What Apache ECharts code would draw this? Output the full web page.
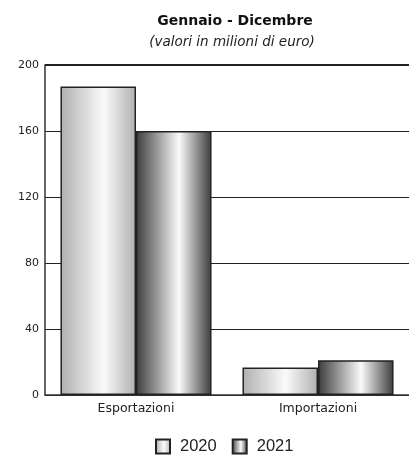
<!DOCTYPE html>
<html>
<head>
<meta charset="utf-8">
<script src="https://cdn.jsdelivr.net/npm/echarts@6/dist/echarts.min.js"></script>
<style>
  html, body { margin: 0; padding: 0; background: #fff; }
  #chart { width: 409px; height: 458px; }
</style>
</head>
<body>
<div id="chart"></div>
<script>
// Trade flows, January–December (millions of euro)
const categories = ['Esportazioni', 'Importazioni'];
const years = ['2020', '2021'];
const values2020 = [187, 16.6];
const values2021 = [160, 21];
const yTicks = [0, 40, 80, 120, 160, 200];

const font = 'DejaVu Sans, Verdana, sans-serif';

function cylinder(edge, mid) {
  return new echarts.graphic.LinearGradient(0, 0, 1, 0, [
    { offset: 0, color: edge },
    { offset: 0.57, color: mid },
    { offset: 1, color: edge }
  ]);
}

const chart = echarts.init(document.getElementById('chart'), null, { renderer: 'canvas' });

chart.setOption({
  animation: false,
  backgroundColor: '#ffffff',
  title: [
    {
      text: 'Gennaio - Dicembre',
      left: 230, top: 9, textAlign: 'center',
      textStyle: { fontFamily: font, fontSize: 14, fontWeight: 'bold', color: '#111' }
    },
    {
      text: '(valori in milioni di euro)',
      left: 227, top: 30, textAlign: 'center',
      textStyle: { fontFamily: font, fontSize: 13.5, fontStyle: 'italic', fontWeight: 'normal', color: '#222' }
    }
  ],
  legend: {
    data: years,
    top: 438,
    left: 155,
    padding: 0,
    itemWidth: 14,
    itemHeight: 14,
    itemGap: 15,
    icon: 'rect',
    textStyle: {
      fontFamily: 'Liberation Sans, Arial, sans-serif', fontSize: 16.5, color: '#222',
      padding: [0, 0, 0, 5]
    }
  },
  grid: { left: 45, right: 0, top: 65, bottom: 63 },
  xAxis: {
    type: 'category',
    data: categories,
    axisLine: { lineStyle: { color: '#333', width: 1.5 } },
    axisTick: { show: false },
    axisLabel: { fontFamily: font, fontSize: 12.5, color: '#222', margin: 7 }
  },
  yAxis: {
    type: 'value',
    min: yTicks[0],
    max: yTicks[yTicks.length - 1],
    interval: 40,
    axisLine: { show: true, lineStyle: { color: '#333', width: 1.5 } },
    axisTick: { show: false },
    axisLabel: { fontFamily: font, fontSize: 11, color: '#222', margin: 6 },
    splitLine: { show: true, lineStyle: { color: '#222', width: 1.2 } }
  },
  series: [
    {
      name: years[0],
      type: 'bar',
      data: values2020,
      barGap: '0%',
      barCategoryGap: '17%',
      itemStyle: { color: cylinder('#b0b0b0', '#fafafa'), borderColor: '#222', borderWidth: 1.5 },
      // heavier frame line across the top of the plot
      markLine: {
        silent: true,
        symbol: 'none',
        label: { show: false },
        lineStyle: { color: '#222', width: 2, type: 'solid' },
        data: [{ yAxis: yTicks[yTicks.length - 1] }]
      }
    },
    {
      name: years[1],
      type: 'bar',
      data: values2021,
      itemStyle: { color: cylinder('#3c3c3c', '#fafafa'), borderColor: '#222', borderWidth: 1.5 }
    }
  ]
});
</script>
</body>
</html>
